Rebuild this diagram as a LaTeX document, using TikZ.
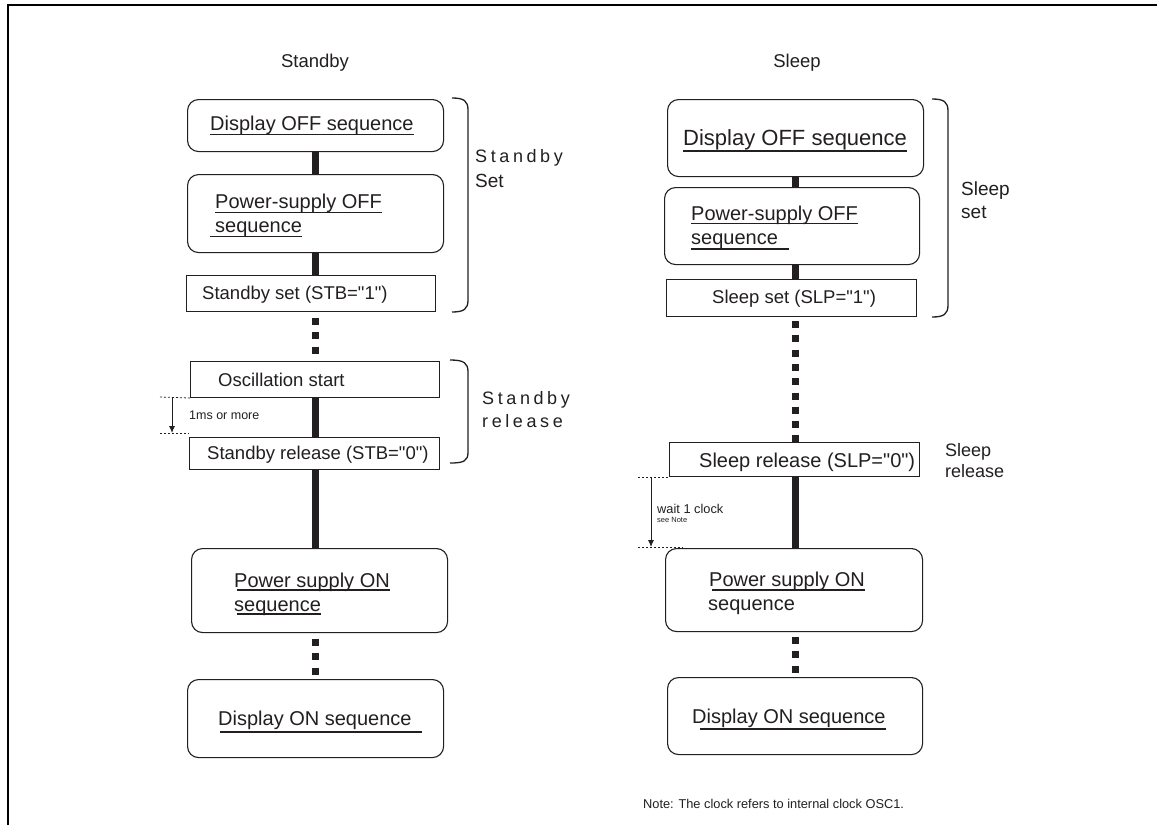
\documentclass[tikz,border=0pt]{standalone}
\usepackage{fontspec}
\setmainfont{Liberation Sans}[Ligatures=TeXOff]
\newfontfamily\spaced{Liberation Sans}[LetterSpace=20,Ligatures=TeXOff]
\usetikzlibrary{arrows.meta}
\definecolor{ink}{HTML}{231F20}
\begin{document}
\begin{tikzpicture}[x=1pt,y=-1pt,
  rbox/.style={draw=ink, line width=1.1pt, rounded corners=11pt, inner sep=0, anchor=north west},
  sbox/.style={draw=ink, line width=1pt, inner sep=0, anchor=north west},
  bar/.style={draw=ink, line width=7pt},
  dotbar/.style={draw=ink, line width=7.5pt, dash pattern=on 7pt off 7.3pt},
  txt/.style={anchor=base west, inner sep=0, text=ink},
  big/.style={font=\fontsize{20}{24}\selectfont},
  mid/.style={font=\fontsize{18.5}{22}\selectfont},
  ul/.style={draw=ink, line width=1.8pt},
  brace/.style={draw=ink, line width=1.3pt},
  guide/.style={draw=ink, line width=0.8pt, dash pattern=on 2pt off 2pt},
  meas/.style={draw=ink, line width=0.9pt, -{Latex[length=7pt,width=6pt]}},
]
\useasboundingbox (0,0) rectangle (1157,825);
\fill[white] (0,0) rectangle (1157,825);
\draw[line width=2pt, draw=black] (8,825) -- (8,5) -- (1157,5);

% titles
\node[txt, anchor=base, font=\fontsize{18.5}{22}\selectfont] (ttlA) at (315,67) {Standby};
\node[txt, anchor=base, font=\fontsize{18.5}{22}\selectfont] (ttlB) at (797,67) {Sleep};

% ---------- left column ----------
\node[rbox, minimum width=256pt, minimum height=52pt] (doffL) at (187,99) {};
\node[rbox, minimum width=256pt, minimum height=78pt] (psoffL) at (187,174) {};
\node[sbox, minimum width=249pt, minimum height=36pt] (stbset) at (186,275) {};
\node[sbox, minimum width=249pt, minimum height=36pt] (osc) at (190,361) {};
\node[sbox, minimum width=250pt, minimum height=32pt] (stbrel) at (189,437) {};
\node[rbox, minimum width=256pt, minimum height=84pt] (psonL) at (191,548) {};
\node[rbox, minimum width=256pt, minimum height=78pt] (donL) at (187,679) {};

\draw[bar] (doffL.south) -- (psoffL.north);
\draw[bar] (psoffL.south) -- (psoffL.south |- stbset.north);
\draw[dotbar, dash phase=8.3pt] (psoffL.south |- stbset.south) -- (psoffL.south |- osc.north);
\draw[bar] (psoffL.south |- osc.south) -- (psoffL.south |- stbrel.north);
\draw[bar] (psoffL.south |- stbrel.south) -- (psoffL.south |- psonL.north);
\draw[dotbar, dash phase=8.3pt] (psoffL.south |- psonL.south) -- (psoffL.south |- donL.north);

\node[txt, big] (tdoffL) at (210,130) {Display OFF sequence};
\draw[ul] ([yshift=-4.5pt]tdoffL.base west) -- ([yshift=-4.5pt]tdoffL.base east);
\node[txt, big] (tpsL1) at (215,208) {Power-supply OFF};
\draw[ul] ([yshift=-4.5pt]tpsL1.base west) -- ([yshift=-4.5pt]tpsL1.base east);
\node[txt, big] (tpsL2) at (215,232) {sequence};
\draw[ul] ([xshift=-5pt,yshift=-4.5pt]tpsL2.base west) -- ([yshift=-4.5pt]tpsL2.base east);
\node[txt, mid] (tstbset) at (202,299) {Standby set (STB="1")};
\node[txt, mid] (tosc) at (218,386) {Oscillation start};
\node[txt, mid] (tstbrel) at (207,459) {Standby release (STB="0")};
\node[txt, big] (tpsonL1) at (234,587) {Power supply ON};
\draw[ul] ([xshift=3pt,yshift=-3pt]tpsonL1.base west) -- ([yshift=-3pt]tpsonL1.base east);
\node[txt, big] (tpsonL2) at (234,611) {sequence};
\draw[ul] ([xshift=3pt,yshift=-3pt]tpsonL2.base west) -- ([yshift=-3pt]tpsonL2.base east);
\node[txt, big] (tdonL) at (218,725) {Display ON sequence};
\draw[ul] ([xshift=2pt,yshift=-7pt]tdonL.base west) -- ([xshift=10pt,yshift=-7pt]tdonL.base east);

% measurement 1ms
\coordinate (g1) at (160,397);
\coordinate (g2) at (160,433);
\coordinate (m1) at (172,397);
\coordinate (m2) at (172,433);
\draw[guide] (g1) -- (osc.south west);
\draw[guide] (g2) -- (g2 -| stbrel.west);
\draw[meas] (m1) -- (m2);
\node[txt, font=\fontsize{12.5}{14}\selectfont] (t1ms) at (189,419) {1ms or more};

% braces left
\draw[brace] (452,98) .. controls (464,98) and (468,101) .. (468,110) -- (468,300) .. controls (468,309) and (464,312) .. (452,312);
\draw[brace] (450,360) .. controls (464,360) and (468,363) .. (468,372) -- (468,452) .. controls (468,461) and (464,463) .. (450,463);
\node[txt, font=\spaced\fontsize{18}{22}\selectfont] (lbA1) at (475,162) {Standby};
\node[txt, font=\fontsize{19}{22}\selectfont] (lbA2) at (475,187) {Set};
\node[txt, font=\spaced\fontsize{18}{22}\selectfont] (lbB1) at (482,404) {Standby};
\node[txt, font=\spaced\fontsize{18}{22}\selectfont] (lbB2) at (482,427) {release};

% ---------- right column ----------
\node[rbox, minimum width=256pt, minimum height=77pt] (doffR) at (667,99) {};
\node[rbox, minimum width=255pt, minimum height=77pt] (psoffR) at (664,187) {};
\node[sbox, minimum width=250pt, minimum height=37pt] (slpset) at (666,279) {};
\node[sbox, minimum width=250pt, minimum height=34pt] (srel) at (669,442) {};
\node[rbox, minimum width=257pt, minimum height=83pt] (psonR) at (665,548) {};
\node[rbox, minimum width=255pt, minimum height=77pt] (donR) at (667,677) {};

\draw[bar] (doffR.south) -- (doffR.south |- psoffR.north);
\draw[bar] (doffR.south |- psoffR.south) -- (doffR.south |- slpset.north);
\draw[dotbar, dash phase=10.3pt] (doffR.south |- slpset.south) -- (doffR.south |- srel.north);
\draw[bar] (doffR.south |- srel.south) -- (doffR.south |- psonR.north);
\draw[dotbar, dash phase=9.3pt] (doffR.south |- psonR.south) -- (doffR.south |- donR.north);

\node[txt, font=\fontsize{22}{26}\selectfont] (tdoffR) at (683,145) {Display OFF sequence};
\draw[ul] ([yshift=-6pt]tdoffR.base west) -- ([yshift=-6pt]tdoffR.base east);
\node[txt, big] (tpsR1) at (691,220) {Power-supply OFF};
\draw[ul] ([yshift=-3.5pt]tpsR1.base west) -- ([yshift=-3.5pt]tpsR1.base east);
\node[txt, big] (tpsR2) at (691,244) {sequence};
\draw[ul] ([yshift=-5pt]tpsR2.base west) -- ([xshift=11pt,yshift=-5pt]tpsR2.base east);
\node[txt, mid] (tslpset) at (712,303) {Sleep set (SLP="1")};
\node[txt, big] (tsrel) at (699,467) {Sleep release (SLP="0")};
\node[txt, big] (tpsonR1) at (709,586) {Power supply ON};
\draw[ul] ([xshift=3pt,yshift=-4pt]tpsonR1.base west) -- ([yshift=-4pt]tpsonR1.base east);
\node[txt, big] (tpsonR2) at (708,610) {sequence};
\node[txt, big] (tdonR) at (692,723) {Display ON sequence};
\draw[ul] ([xshift=8pt,yshift=-6pt]tdonR.base west) -- ([yshift=-6pt]tdonR.base east);

% brace right
\draw[brace] (932,99) .. controls (944,99) and (948,102) .. (948,111) -- (948,305) .. controls (948,314) and (944,317) .. (932,317);
\node[txt, font=\fontsize{19}{22}\selectfont] (lcA1) at (961,195) {Sleep};
\node[txt, font=\fontsize{19}{22}\selectfont] (lcA2) at (961,218) {set};
\node[txt, font=\fontsize{18}{22}\selectfont] (lcB1) at (945,456) {Sleep};
\node[txt, font=\fontsize{18}{22}\selectfont] (lcB2) at (945,477) {release};

% measurement wait 1 clock
\coordinate (g3) at (638,477);
\coordinate (g4) at (638,547);
\coordinate (g4e) at (683,547);
\coordinate (m3) at (651,477);
\coordinate (m4) at (651,547);
\draw[guide] (g3) -- (g3 -| srel.west);
\draw[guide] (g4) -- (g4e);
\draw[meas] (m3) -- (m4);
\node[txt, font=\fontsize{12.8}{14}\selectfont] (twait) at (657,513) {wait 1 clock};
\node[txt, font=\fontsize{7.5}{9}\selectfont] (tsee) at (657,522) {see Note};

\node[txt, font=\fontsize{12.8}{14}\selectfont] (tnote) at (643,808) {Note: The clock refers to internal clock OSC1.};
\end{tikzpicture}
\end{document}
